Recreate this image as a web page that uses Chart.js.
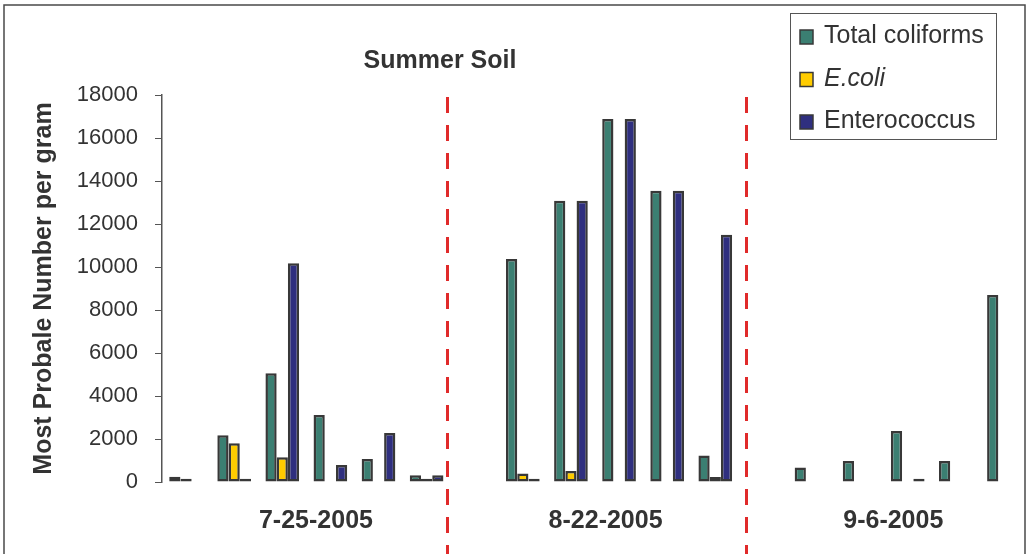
<!DOCTYPE html>
<html>
<head>
<meta charset="utf-8">
<script src="https://cdn.jsdelivr.net/npm/chart.js@4.4.0/dist/chart.umd.min.js"></script>
<style>
  html, body { margin: 0; padding: 0; background: #fff; }
  #wrap { width: 1029px; height: 554px; position: relative; }
</style>
</head>
<body>
<div id="wrap"><canvas id="soil"></canvas></div>
<script>
// sites sampled on each date; blank slots separate the dates
const sites = ['1', '2', '3', '4', '5', '6', '', '1', '2', '3', '4', '5', '', '1', '2', '3', '4', '5'];
const totalColiforms = [250, 2170, 5060, 3120, 1070, 310, null, 10370, 13080, 16880, 13550, 1230, null, 680, 980, 2370, 980, 8700];
const eColi = [150, 1800, 1150, null, null, 150, null, 400, 510, null, null, 230, null, null, null, null, null, null];
const enterococcus = [null, 150, 10180, 790, 2280, 310, null, 150, 13080, 16880, 13550, 11500, null, null, null, 150, null, null];
const yTicks = [0, 2000, 4000, 6000, 8000, 10000, 12000, 14000, 16000, 18000];

const dates = ['7-25-2005', '8-22-2005', '9-6-2005'];
const dateLabelAt = [2.7, 8.72, 14.7];   // in category index units
const dividerAt = [5.42, 11.63];

const seriesNames = ['Total coliforms', 'E.coli', 'Enterococcus'];
const seriesColors = ['#3b7f72', '#ffcc00', '#2f2f7f'];
const edge = '#383838';
const ink = '#333333';
const FONT = '"Liberation Sans", Arial, Helvetica, sans-serif';

function catPixel(scale, v) {
  const a = Math.floor(v);
  const p0 = scale.getPixelForValue(a);
  const p1 = scale.getPixelForValue(a + 1);
  return p0 + (p1 - p0) * (v - a);
}

const decor = {
  id: 'decor',
  afterDraw(chart) {
    const ctx = chart.ctx;
    const x = chart.scales.x;
    ctx.save();

    // outer frame
    ctx.strokeStyle = '#4a4a4a';
    ctx.lineWidth = 1.5;
    ctx.beginPath();
    ctx.moveTo(4, 554);
    ctx.lineTo(4, 5);
    ctx.lineTo(1025, 5);
    ctx.lineTo(1025, 554);
    ctx.stroke();

    // dashed separators between sampling dates
    ctx.strokeStyle = '#e02a2a';
    ctx.lineWidth = 3;
    ctx.setLineDash([16, 12]);
    dividerAt.forEach((d) => {
      const px = Math.round(catPixel(x, d)) + 0.5;
      ctx.beginPath();
      ctx.moveTo(px, 97);
      ctx.lineTo(px, 554);
      ctx.stroke();
    });
    ctx.setLineDash([]);

    // chart title
    ctx.fillStyle = ink;
    ctx.textAlign = 'center';
    ctx.textBaseline = 'alphabetic';
    ctx.font = 'bold 25px ' + FONT;
    ctx.fillText('Summer Soil', 440, 68);

    // date labels under each group
    dates.forEach((d, i) => {
      ctx.fillText(d, catPixel(x, dateLabelAt[i]), 528);
    });

    // legend box
    ctx.fillStyle = '#fff';
    ctx.fillRect(790, 13, 206, 126);
    ctx.strokeStyle = '#555';
    ctx.lineWidth = 1;
    ctx.strokeRect(790.5, 13.5, 206, 126);
    const rows = [43, 85.5, 128];
    seriesNames.forEach((name, i) => {
      ctx.fillStyle = seriesColors[i];
      ctx.fillRect(800, rows[i] - 13, 13, 14);
      ctx.strokeStyle = edge;
      ctx.lineWidth = 1.5;
      ctx.strokeRect(800, rows[i] - 13, 13, 14);
      ctx.fillStyle = ink;
      ctx.textAlign = 'left';
      ctx.font = (i === 1 ? 'italic ' : '') + '25px ' + FONT;
      ctx.fillText(name, 824, rows[i]);
    });

    ctx.restore();
  }
};

const datasets = [totalColiforms, eColi, enterococcus].map((values, i) => ({
  label: seriesNames[i],
  data: values,
  backgroundColor: seriesColors[i],
  borderColor: edge,
  borderWidth: 2.5,
  borderSkipped: false,
  categoryPercentage: 0.7,
  barPercentage: 1.0
}));

new Chart(document.getElementById('soil'), {
  type: 'bar',
  data: { labels: sites, datasets: datasets },
  plugins: [decor],
  options: {
    responsive: true,
    maintainAspectRatio: false,
    animation: false,
    layout: { padding: { left: 0, right: 1, top: 95, bottom: 72 } },
    plugins: {
      legend: { display: false },
      title: { display: false },
      tooltip: { enabled: false }
    },
    scales: {
      x: {
        type: 'category',
        grid: { display: false },
        border: { display: false },
        ticks: { display: false },
        afterFit(scale) { scale.height = 0; }
      },
      y: {
        min: 0,
        max: 18000,
        afterBuildTicks(scale) { scale.ticks = yTicks.map((v) => ({ value: v })); },
        afterFit(scale) { scale.width = 162; },
        grid: { drawOnChartArea: false, drawTicks: true, tickLength: 7, color: '#555' },
        border: { display: true, color: '#555', width: 1.5 },
        ticks: {
          padding: 17,
          color: ink,
          font: { family: FONT, size: 22 },
          callback: (v) => String(v)
        },
        title: {
          display: true,
          text: 'Most Probale Number per gram',
          color: ink,
          font: { family: FONT, size: 25, weight: 'bold' },
          padding: { top: 29, bottom: 0 }
        }
      }
    }
  }
});
</script>
</body>
</html>
